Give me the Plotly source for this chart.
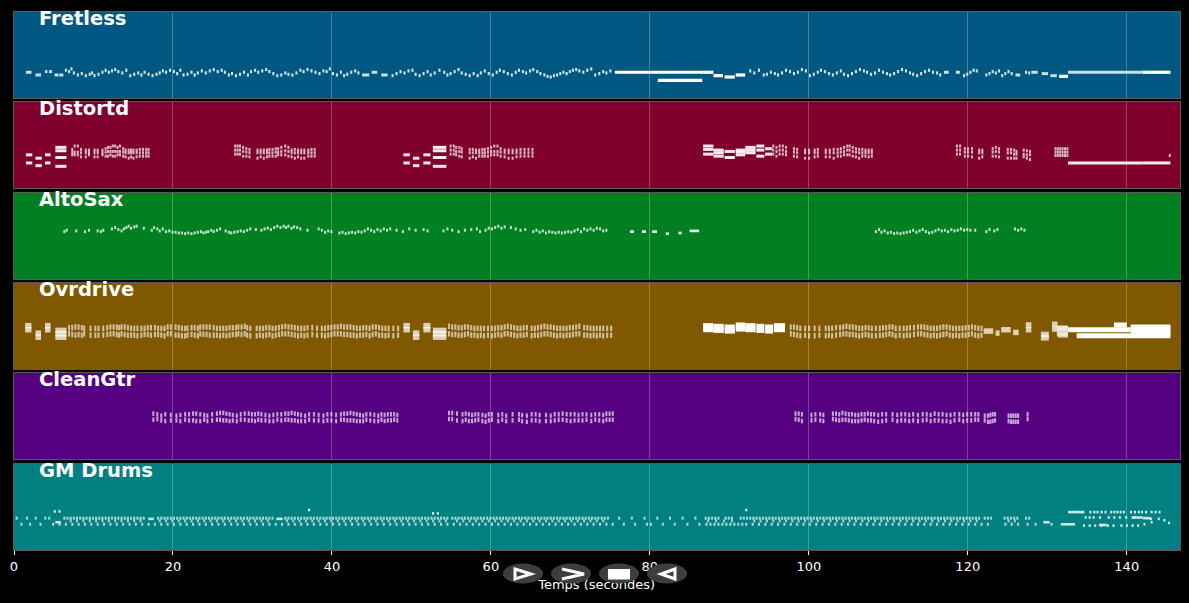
import plotly.graph_objects as go
from plotly.subplots import make_subplots

W, H = 1189, 603

##### DATA (times in seconds, pitch as midi number) #####
track_names = ["Fretless", "Distortd", "AltoSax", "Ovrdrive", "CleanGtr", "GM Drums"]
track_colors = ["rgb(0,88,130)", "rgb(128,0,45)", "rgb(0,128,35)", "rgb(128,88,0)", "rgb(85,0,128)", "rgb(0,128,128)"]
panel_tops = [12, 102, 193, 283, 373, 464]
panel_bottoms = [98, 188, 279, 369, 459, 550]
tick_vals = [0, 20, 40, 60, 80, 100, 120, 140]

# fretless
fretless_long_start = [75.6, 81.0, 86.7, 88.0, 89.4, 90.8, 131.5, 142.0]
fretless_long_end = [86.7, 86.6, 88.0, 89.2, 90.7, 92.0, 132.6, 145.5]
fretless_long_pitch = [38, 26, 38, 33, 31, 34, 32, 38]
fretless_mid_start = [1.5, 2.7, 3.9, 4.4, 5.1, 5.7, 43.8, 45.0, 46.2, 117.0, 118.5, 126.0, 128.0, 129.3, 130.4, 132.6]
fretless_mid_end = [2.2, 3.4, 4.2, 4.8, 5.6, 6.2, 44.7, 45.7, 47.0, 117.6, 119.0, 126.6, 128.8, 130.1, 131.2, 142.0]
fretless_mid_pitch = [38, 34, 39, 39, 34, 34, 34, 38, 34, 38, 38, 34, 38, 36, 33, 38]
fretless_t = [6.4, 6.8, 7.1, 7.4, 7.9, 8.4, 8.9, 9.4, 9.7, 10.0, 10.5, 11.0, 11.4, 11.8, 12.2, 12.6, 13.0, 13.5, 14.0, 14.5,
              15.0, 15.5, 15.9, 16.3, 16.8, 17.3, 17.8, 18.2, 18.6, 19.0, 19.5, 20.0, 20.4, 20.8, 21.2, 21.7, 22.2, 22.6, 23.0, 23.5,
              24.0, 24.5, 25.0, 25.5, 26.0, 26.4, 26.9, 27.3, 27.8, 28.3, 28.8, 29.3, 29.7, 30.2, 30.6, 31.1, 31.6, 32.0, 32.5, 33.0,
              33.5, 34.0, 34.4, 34.9, 35.4, 35.9, 36.3, 36.8, 37.3, 37.8, 38.3, 38.8, 39.2, 39.6, 40.0, 40.5, 41.0, 41.4, 41.8, 42.3, 42.8, 43.2,
              47.5, 48.0, 48.5, 49.0, 49.5, 50.0, 50.4, 50.9, 51.4, 51.9, 52.3, 52.8, 53.4, 54.0, 54.4, 54.8, 55.3, 55.8, 56.2, 56.7,
              57.2, 57.7, 58.2, 58.6, 59.1, 59.6, 60.1, 60.6, 61.0, 61.5, 62.0, 62.5, 63.0, 63.4, 63.9, 64.3, 64.8, 65.2, 65.7, 66.1,
              66.6, 67.0, 67.4, 67.8, 68.2, 68.6, 69.0, 69.4, 69.8, 70.2, 70.6, 71.0, 71.5, 72.0, 72.5, 73.0, 73.5, 74.0, 74.4, 74.9,
              92.5, 93.0, 93.6, 94.2, 94.6, 95.1, 95.6, 96.0, 96.5, 97.0, 97.5, 98.0, 98.5, 99.0, 99.5, 100.0, 100.5, 101.0, 101.4, 101.9,
              102.4, 102.9, 103.4, 103.9, 104.3, 104.8, 105.3, 105.8, 106.3, 106.8, 107.2, 107.7, 108.2, 108.7, 109.2, 109.7, 110.1, 110.6, 111.1, 111.6,
              112.1, 112.6, 113.0, 113.5, 114.0, 114.5, 115.0, 115.5, 116.0, 116.4, 119.4, 119.8, 120.2, 120.6, 121.0, 122.2, 122.6, 123.0, 123.4, 123.8,
              124.2, 124.6, 125.0, 125.4, 127.2, 127.6]
fretless_p = [41, 39, 43, 37, 34, 36, 33, 35, 37, 33, 35, 38, 41, 38, 40, 42, 39, 37, 41, 33,
              35, 37, 34, 38, 35, 33, 35, 37, 40, 38, 41, 39, 36, 41, 34, 35, 38, 34, 37, 40,
              37, 40, 42, 39, 41, 38, 34, 36, 33, 35, 38, 34, 39, 41, 38, 40, 42, 39, 36, 33,
              34, 37, 35, 34, 37, 41, 39, 42, 40, 38, 36, 40, 39, 43, 36, 34, 38, 33, 35, 38, 40, 37,
              33, 36, 39, 37, 40, 41, 35, 33, 36, 39, 34, 37, 41, 38, 34, 36, 39, 42, 37, 35,
              33, 36, 33, 37, 40, 36, 34, 38, 41, 39, 36, 34, 38, 41, 39, 37, 40, 42, 39, 36,
              34, 32, 31, 33, 34, 36, 38, 36, 39, 41, 42, 40, 38, 41, 43, 34, 36, 39, 37, 40,
              40, 37, 41, 34, 35, 38, 36, 34, 37, 41, 39, 36, 38, 42, 40, 33, 35, 38, 41, 39,
              36, 34, 37, 40, 35, 33, 36, 39, 42, 40, 38, 35, 37, 41, 38, 36, 34, 36, 39, 42,
              40, 37, 35, 33, 36, 39, 41, 38, 37, 34, 33, 35, 38, 41, 40, 34, 36, 39, 37, 40,
              33, 36, 39, 36, 38, 37]

# distortd
distortd_long_start = [1.5, 1.5, 2.7, 2.7, 3.9, 3.9, 5.2, 5.2, 5.2, 5.2, 49.0, 49.0, 50.2, 50.2, 51.5, 51.5, 52.7, 52.7, 52.7, 52.7,
                       86.7, 86.7, 86.7, 88.0, 88.0, 88.0, 89.4, 89.4, 90.8, 90.8, 90.8, 92.0, 92.0, 92.0, 93.4, 93.4, 93.4, 94.5, 94.5, 132.6, 142.0, 145.3]
distortd_long_end = [2.3, 2.3, 3.5, 3.5, 4.6, 4.6, 6.6, 6.6, 6.6, 6.6, 49.8, 49.8, 51.0, 51.0, 52.4, 52.4, 54.4, 54.4, 54.4, 54.4,
                     88.0, 88.0, 88.0, 89.3, 89.3, 89.3, 90.7, 90.7, 92.0, 92.0, 92.0, 93.3, 93.3, 93.3, 94.4, 94.4, 94.4, 95.4, 95.4, 142.0, 145.5, 145.5]
distortd_long_pitch = [49, 37, 44, 33, 49, 37, 60, 55, 45, 32, 49, 37, 44, 33, 49, 37, 60, 55, 45, 32,
                       62, 57, 50, 56, 52, 47, 54, 45, 56, 53, 49, 60, 56, 52, 62, 56, 47, 58, 50, 37, 37, 48]
distortd_t = [7.2, 7.5, 7.9, 8.3, 8.9, 9.3, 10.0, 10.4, 11.0, 11.4, 11.7, 12.0, 12.3, 12.6, 12.9, 13.2, 13.6, 13.9, 14.3, 14.6, 14.9, 15.3, 15.7, 16.1, 16.5, 16.8,
              27.7, 28.0, 28.3, 28.7, 29.1, 29.5, 30.5, 30.9, 31.3, 31.7, 32.0, 32.4, 32.8, 33.1, 33.5, 34.0, 34.4, 34.8, 35.2, 35.6, 36.0, 36.4, 36.9, 37.3, 37.7,
              54.8, 55.2, 55.5, 55.9, 56.2, 57.2, 57.6, 58.0, 58.4, 58.8, 59.1, 59.5, 59.9, 60.3, 60.7, 61.1, 61.6, 62.1, 62.6, 63.1, 63.6, 64.1, 64.6, 65.1,
              95.4, 95.8, 96.2, 96.6, 97.0, 98.0, 98.4, 99.4, 99.9, 100.6, 101.0, 102.0, 102.5, 103.0, 103.5, 103.9, 104.3, 104.7, 105.0, 105.4, 105.8, 106.2, 106.6, 107.0, 107.4, 107.8,
              118.5, 118.9, 119.5, 119.9, 120.4, 121.3, 121.7, 123.0, 123.4, 123.8, 124.9, 125.3, 125.7, 126.0, 126.9, 127.3, 127.7,
              130.9, 131.2, 131.5, 131.8, 132.1, 132.4]
distortd_hi = [57, 62, 62, 57, 56, 56, 56, 56, 56, 58, 60, 60, 62, 62, 60, 62, 58, 56, 56, 56, 56, 56, 57, 57, 57, 57,
               62, 62, 62, 60, 58, 57, 56, 56, 56, 56, 57, 57, 58, 58, 60, 62, 60, 56, 57, 56, 56, 56, 56, 57, 57,
               62, 62, 60, 60, 58, 57, 57, 56, 56, 57, 57, 58, 60, 62, 62, 58, 56, 56, 56, 56, 57, 57, 57, 57,
               62, 60, 62, 62, 60, 58, 57, 56, 56, 56, 57, 56, 56, 57, 57, 58, 60, 62, 62, 60, 58, 57, 57, 56, 56, 56,
               62, 62, 58, 58, 58, 56, 56, 58, 60, 58, 57, 57, 56, 54, 56, 55, 54,
               58, 58, 58, 58, 58, 58]
distortd_mid = [53, 53, 53, 52, 52, 52, 52, 52, 52, 53, 54, 54, 54, 54, 54, 54, 53, 52, 52, 52, 52, 52, 52, 52, 52, 52,
                56, 56, 56, 54, 53, 52, 52, 52, 52, 52, 52, 52, 53, 53, 54, 55, 54, 52, 52, 52, 52, 52, 52, 52, 52,
                56, 56, 54, 54, 53, 52, 52, 52, 52, 52, 52, 53, 54, 54, 54, 53, 52, 52, 52, 52, 52, 52, 52, 52,
                56, 54, 56, 56, 54, 53, 52, 52, 52, 52, 52, 52, 52, 52, 52, 53, 54, 56, 56, 54, 53, 52, 52, 52, 52, 52,
                56, 56, 53, 53, 53, 52, 52, 53, 54, 53, 52, 52, 50, 50, 50, 49, 49,
                53, 53, 53, 53, 53, 53]
distortd_lo = [49, 49, 49, 46, 46, 49, 46, 46, 49, 47, 47, 49, 47, 47, 49, 49, 47, 46, 44, 46, 44, 46, 47, 47, 47, 47,
               50, 50, 50, 47, 47, 46, 44, 46, 44, 46, 47, 47, 47, 49, 49, 49, 47, 46, 44, 46, 44, 44, 47, 47, 47,
               50, 50, 49, 47, 46, 44, 46, 44, 47, 47, 47, 47, 49, 49, 49, 47, 46, 44, 44, 46, 47, 47, 47, 47,
               50, 47, 50, 50, 49, 47, 46, 44, 44, 46, 47, 46, 46, 44, 47, 47, 49, 49, 49, 47, 46, 44, 47, 47, 46, 47,
               50, 50, 47, 47, 46, 44, 46, 47, 47, 46, 44, 44, 44, 44, 46, 44, 42,
               48, 48, 48, 48, 48, 48]

# altosax
altosax_long_start = [85.0, 77.5, 79.0, 80.3, 82.0, 83.6]
altosax_long_end = [86.2, 78.0, 79.5, 80.9, 82.4, 84.0]
altosax_long_pitch = [71, 70, 70, 70, 67, 68]
altosax_t = [6.2, 6.5, 7.7, 8.8, 9.3, 10.4, 10.8, 11.1, 12.2, 12.6, 13.0, 13.4, 13.7, 14.0, 14.3, 14.6, 15.0, 15.3, 16.2,
             17.2, 17.5, 17.9, 18.2, 18.6, 19.0, 19.4, 19.8, 20.2, 20.6, 21.0, 21.4, 21.8, 22.2, 22.6, 23.0, 23.4, 23.7, 24.0, 24.3, 24.7, 25.0, 25.4, 25.8,
             26.5, 26.9, 27.2, 27.6, 28.0, 28.4, 28.8, 29.2, 29.6, 30.3, 31.0, 31.4, 31.8, 32.2, 32.6, 33.0, 33.4, 33.8, 34.1, 34.4, 34.8, 35.1, 35.5, 35.9, 36.8,
             38.2, 38.6, 39.0, 39.4, 39.8, 40.8, 41.2, 41.6, 42.0, 42.4, 42.8, 43.2, 43.6, 44.0, 44.4, 44.8, 45.2, 45.6, 46.0, 46.4, 46.8, 47.2, 48.0, 48.8, 49.6, 50.4, 51.4, 51.9,
             53.9, 54.4, 55.0, 55.8, 56.6, 57.4, 58.1, 58.5, 59.2, 59.6, 60.0, 60.4, 60.8, 61.2, 61.6, 62.4, 63.0, 63.6, 64.2,
             65.2, 65.6, 66.0, 66.4, 66.8, 67.2, 67.6, 68.0, 68.4, 68.8, 69.2, 69.6, 70.0, 70.4, 70.8, 71.2, 71.6, 72.0, 72.4, 72.8, 73.2, 73.6, 74.0, 74.4,
             108.3, 108.7, 109.0, 109.4, 109.8, 110.2, 110.6, 111.0, 111.4, 111.8, 112.2, 112.6, 113.0, 113.4, 113.8, 114.2, 114.6, 115.0, 115.4, 115.8, 116.2, 116.6, 117.0, 117.4,
             117.8, 118.2, 118.6, 119.0, 119.4, 119.8, 120.2, 120.8, 122.2, 122.6, 123.2, 123.6, 125.8, 126.2, 126.6, 127.0, 127.4]
altosax_p = [70, 72, 71, 70, 72, 71, 70, 72, 74, 76, 73, 71, 74, 76, 78, 75, 77, 78, 75,
             72, 76, 74, 71, 74, 70, 71, 69, 69, 68, 68, 67, 68, 67, 68, 69, 70, 68, 69, 70, 72, 70, 72, 74,
             71, 69, 68, 69, 70, 71, 70, 72, 74, 73, 72, 74, 75, 73, 76, 78, 76, 78, 76, 78, 75, 77, 76, 74, 72,
             74, 72, 69, 71, 70, 68, 69, 67, 68, 69, 68, 70, 69, 71, 74, 72, 70, 73, 71, 74, 72, 74, 72, 70, 74, 72, 73, 71,
             71, 74, 72, 70, 72, 73, 74, 70, 72, 75, 74, 76, 78, 75, 77, 76, 74, 72,
             73, 70, 72, 69, 71, 68, 70, 69, 68, 69, 68, 69, 70, 69, 71, 73, 70, 74, 72, 74, 72, 75, 74, 71,
             72, 70, 73, 69, 71, 68, 69, 67, 68, 67, 68, 69, 70, 72, 69, 71, 73, 70, 68, 69, 71, 73, 71, 72,
             70, 73, 71, 72, 74, 72, 73, 72, 72, 70, 73, 71, 73, 74, 72, 74, 72]

# ovrdrive
ovrdrive_long_start = [86.7, 86.7, 88.0, 88.0, 89.4, 89.4, 90.8, 90.8, 92.0, 92.0, 93.4, 93.4, 94.5, 94.5, 95.6, 95.6,
                       132.6, 133.7, 138.4, 140.5, 140.5, 140.5]
ovrdrive_long_end = [88.0, 88.0, 89.3, 89.3, 90.7, 90.7, 92.0, 92.0, 93.3, 93.3, 94.4, 94.4, 95.5, 95.5, 97.0, 97.0,
                     140.5, 145.5, 140.0, 145.5, 145.5, 145.5]
ovrdrive_long_pitch = [64, 58, 63, 57, 62, 56, 65, 59, 64, 58, 63, 57, 62, 56, 64, 58,
                       58, 49, 65, 62, 58, 54]
ovrdrive_block_start = [1.4, 1.4, 2.7, 2.7, 3.9, 3.9, 5.2, 5.2, 5.2, 49.0, 49.0, 50.2, 50.2, 51.5, 51.5, 52.7, 52.7, 52.7,
                        122.0, 123.5, 124.2, 125.7, 127.3, 127.3, 129.2, 129.2, 130.6, 130.6, 131.2, 131.2]
ovrdrive_block_end = [2.2, 2.2, 3.4, 3.4, 4.6, 4.6, 6.6, 6.6, 6.6, 49.8, 49.8, 51.0, 51.0, 52.4, 52.4, 54.4, 54.4, 54.4,
                      123.2, 124.0, 125.4, 126.4, 128.0, 128.0, 130.2, 130.2, 131.3, 131.3, 132.6, 132.6]
ovrdrive_block_pitch = [64, 58, 53, 47, 64, 58, 57, 52, 47, 64, 58, 53, 47, 64, 58, 57, 52, 47,
                        56, 53, 58, 54, 65, 58, 51, 46, 66, 59, 60, 52]
ovrdrive_t = [6.8, 7.2, 7.6, 8.0, 8.4, 8.7, 9.5, 10.1, 10.5, 11.1, 11.6, 12.0, 12.4, 12.8, 13.1, 13.4, 13.8, 14.2, 14.6, 15.0, 15.4, 15.9, 16.3, 16.7, 17.1,
              17.6, 18.0, 18.4, 18.8, 19.2, 19.6, 20.2, 20.6, 21.0, 21.4, 21.7, 22.2, 22.6, 23.0, 23.3, 23.7, 24.1, 24.5, 25.0, 25.4, 25.8, 26.2, 26.6, 27.0, 27.4,
              27.8, 28.1, 28.5, 28.9, 29.2, 29.6, 30.4, 30.8, 31.2, 31.6, 32.0, 32.4, 32.8, 33.2, 33.6, 34.0, 34.4, 34.8, 35.2, 35.6, 36.0, 36.4, 36.8, 37.4, 38.0,
              38.6, 39.0, 39.4, 39.8, 40.2, 40.6, 41.0, 41.4, 41.8, 42.2, 42.6, 43.0, 43.4, 43.8, 44.2, 44.6, 45.0, 45.4, 45.8, 46.2, 46.6, 47.0, 47.6, 48.2,
              54.6, 55.0, 55.4, 55.8, 56.2, 56.6, 57.0, 57.4, 57.8, 58.2, 58.6, 59.0, 59.5, 60.0, 60.4, 60.8, 61.2, 61.6, 62.0, 62.4, 62.8, 63.2, 63.6, 64.0, 64.4,
              65.0, 65.4, 65.8, 66.2, 66.6, 67.0, 67.4, 67.8, 68.2, 68.6, 69.0, 69.4, 69.8, 70.2, 70.6, 71.0, 71.6, 72.0, 72.4, 72.8, 73.2, 73.6, 74.0, 74.5, 75.0,
              97.6, 98.0, 98.4, 98.8, 99.4, 99.9, 100.6, 101.2, 102.0, 102.4, 102.8, 103.3, 103.8, 104.2, 104.6, 105.0, 105.4, 105.8, 106.2, 106.6, 107.0, 107.4, 107.8, 108.3,
              108.8, 109.2, 109.6, 110.0, 110.4, 110.8, 111.3, 111.8, 112.2, 112.6, 113.1, 113.6, 114.0, 114.4, 114.8, 115.2, 115.6, 116.0, 116.4, 116.8, 117.2, 117.6, 118.0, 118.4,
              118.8, 119.2, 119.6, 120.0, 120.4, 120.8, 121.2, 121.6, 131.4, 131.7, 132.0, 132.3]
ovrdrive_hi = [61, 61, 62, 62, 61, 60, 60, 60, 60, 60, 61, 62, 62, 62, 61, 62, 62, 61, 60, 60, 60, 60, 60, 61, 61,
               61, 60, 60, 60, 62, 62, 62, 61, 60, 60, 60, 61, 61, 60, 62, 62, 62, 62, 61, 60, 60, 60, 60, 61, 61,
               61, 62, 62, 63, 61, 60, 60, 60, 60, 61, 61, 60, 60, 61, 62, 63, 62, 62, 61, 60, 60, 60, 61, 61, 60,
               60, 60, 61, 61, 62, 62, 63, 62, 62, 62, 61, 60, 60, 61, 61, 60, 62, 62, 61, 60, 60, 60, 60, 60,
               63, 62, 62, 61, 61, 62, 62, 61, 60, 60, 60, 60, 60, 60, 60, 61, 61, 62, 63, 62, 61, 60, 60, 61, 61,
               60, 60, 61, 62, 63, 62, 62, 61, 60, 60, 60, 60, 61, 61, 62, 63, 61, 61, 60, 60, 60, 60, 60, 60, 60,
               62, 62, 61, 60, 60, 60, 60, 60, 60, 60, 60, 61, 61, 62, 63, 62, 62, 61, 60, 60, 61, 61, 60, 60,
               60, 61, 61, 62, 62, 60, 60, 60, 60, 61, 61, 62, 62, 62, 61, 60, 60, 60, 61, 62, 62, 61, 60, 60,
               60, 60, 61, 61, 62, 61, 60, 60, 60, 60, 60, 60]
ovrdrive_lo = [52, 51, 50, 51, 50, 52, 50, 50, 50, 50, 51, 52, 52, 51, 50, 52, 51, 50, 50, 50, 49, 50, 51, 51, 50,
               51, 51, 50, 49, 52, 52, 50, 50, 49, 49, 50, 51, 50, 49, 52, 51, 51, 50, 50, 50, 49, 50, 49, 50, 51,
               51, 52, 51, 52, 50, 49, 49, 50, 49, 50, 51, 49, 50, 51, 52, 52, 52, 51, 50, 49, 50, 49, 50, 51, 50,
               50, 49, 50, 51, 52, 52, 52, 51, 51, 50, 50, 49, 50, 50, 51, 49, 51, 52, 50, 50, 49, 50, 49, 50,
               52, 51, 51, 50, 50, 51, 52, 50, 50, 49, 50, 49, 50, 49, 50, 51, 50, 52, 52, 51, 50, 49, 50, 50, 51,
               49, 50, 50, 51, 52, 52, 51, 50, 49, 50, 49, 50, 50, 51, 52, 52, 50, 50, 49, 50, 49, 50, 49, 50, 50,
               52, 51, 50, 49, 50, 49, 49, 50, 49, 50, 49, 50, 51, 52, 52, 51, 51, 50, 49, 50, 51, 50, 49, 49,
               50, 50, 51, 52, 51, 49, 50, 49, 50, 50, 51, 52, 52, 51, 50, 49, 50, 49, 50, 51, 52, 50, 49, 50,
               49, 50, 50, 51, 52, 50, 49, 50, 50, 50, 50, 50]

# cleangtr
cleangtr_t = [17.4, 17.9, 18.4, 18.9, 19.6, 20.3, 20.8, 21.4, 21.9, 22.4, 22.8, 23.3, 23.8, 24.2, 24.8, 25.4, 25.8, 26.2, 26.6, 27.0, 27.4, 27.9, 28.4, 28.9,
              29.4, 29.8, 30.2, 30.6, 31.0, 31.5, 32.0, 32.5, 33.0, 33.5, 34.0, 34.4, 34.8, 35.2, 35.6, 36.0, 36.5, 37.0, 37.6, 38.2, 38.8, 39.3, 39.8,
              40.4, 41.0, 41.4, 41.8, 42.2, 42.6, 43.0, 43.4, 43.8, 44.2, 44.7, 45.2, 45.7, 46.1, 46.5, 46.9, 47.3, 47.7, 48.1,
              54.6, 55.0, 55.6, 56.3, 56.7, 57.1, 57.5, 57.9, 58.3, 58.8, 59.2, 59.6, 60.0, 60.8, 61.3, 61.8, 62.6, 63.4, 63.8, 64.4, 65.0, 65.5, 66.0,
              66.8, 67.4, 67.9, 68.4, 68.9, 69.4, 69.9, 70.4, 70.9, 71.4, 71.9, 72.5, 73.0, 73.5, 74.0, 74.4, 74.8, 75.2,
              98.2, 98.6, 99.0, 100.2, 100.7, 101.3, 101.7, 102.9, 103.3, 103.7, 104.1, 104.5, 104.9, 105.3, 105.7, 106.1, 106.5, 106.9, 107.3, 107.7, 108.1, 108.6, 109.1, 109.6,
              110.4, 111.0, 111.5, 112.0, 112.5, 113.0, 113.6, 114.2, 114.7, 115.2, 115.7, 116.2, 116.7, 117.2, 117.7, 118.2, 118.8, 119.3, 119.8, 120.3, 120.8, 121.2,
              122.0, 122.4, 122.7, 123.0, 123.3, 125.0, 125.3, 125.6, 125.9, 126.2, 127.4]
cleangtr_hi = [67, 66, 64, 66, 65, 64, 65, 66, 66, 67, 67, 66, 65, 64, 66, 67, 68, 68, 67, 66, 65, 64, 66, 67,
               67, 66, 66, 67, 66, 65, 64, 65, 66, 66, 67, 67, 68, 67, 66, 65, 64, 66, 66, 65, 64, 66, 66,
               65, 66, 67, 67, 68, 67, 66, 65, 64, 66, 66, 65, 64, 66, 65, 66, 66, 66, 65,
               68, 68, 67, 66, 67, 66, 65, 66, 66, 65, 64, 66, 66, 65, 66, 64, 66, 66, 65, 64, 66, 66, 65,
               65, 64, 66, 66, 67, 66, 66, 66, 65, 66, 66, 65, 66, 66, 65, 67, 67, 67,
               67, 67, 66, 65, 66, 66, 65, 67, 67, 66, 68, 67, 66, 66, 65, 65, 66, 66, 67, 66, 66, 65, 66, 66,
               66, 65, 66, 66, 65, 66, 65, 66, 66, 65, 67, 66, 66, 65, 65, 66, 66, 65, 66, 66, 66, 66,
               64, 64, 65, 66, 66, 64, 64, 64, 64, 64, 66]
cleangtr_lo = [58, 59, 57, 56, 57, 57, 56, 58, 57, 57, 56, 56, 58, 56, 57, 58, 58, 57, 57, 56, 57, 56, 58, 58,
               57, 57, 56, 58, 57, 57, 56, 56, 58, 57, 58, 58, 57, 57, 56, 56, 56, 58, 57, 57, 56, 57, 57,
               56, 58, 58, 57, 57, 57, 56, 56, 56, 58, 57, 56, 56, 58, 56, 57, 57, 58, 57,
               59, 59, 57, 56, 58, 56, 56, 57, 58, 56, 55, 57, 58, 56, 58, 56, 57, 58, 56, 55, 57, 57, 56,
               56, 56, 57, 58, 58, 57, 56, 57, 57, 57, 58, 56, 58, 57, 56, 58, 58, 58,
               59, 58, 56, 57, 58, 57, 56, 59, 58, 57, 58, 58, 57, 56, 56, 56, 57, 58, 57, 57, 56, 55, 56, 57,
               58, 56, 57, 57, 56, 57, 56, 57, 58, 56, 57, 57, 56, 56, 55, 57, 58, 56, 57, 57, 58, 58,
               57, 55, 55, 56, 57, 56, 55, 55, 55, 55, 59]

# gm drums
drums_long_start = [5.2, 16.9, 33.0, 132.6, 131.7, 136.5, 129.5, 140.6, 142.0]
drums_long_end = [5.9, 17.6, 33.8, 134.5, 133.5, 137.5, 130.3, 142.0, 143.0]
drums_long_pitch = [41, 46, 46, 56, 38, 37, 41, 48, 47]
drums_hat_t = [0.2, 1.5, 2.6, 3.8, 4.3, 6.2, 6.6, 7.0, 7.4, 7.8, 8.2, 8.6, 9.0, 9.4, 9.8, 10.2, 10.6, 11.0, 11.4, 11.8, 12.2, 12.6, 13.0, 13.4, 13.8, 14.2, 14.6, 15.0, 15.4, 15.8, 16.2, 18.0, 18.4, 18.8, 19.2, 19.6, 20.0, 20.4, 20.8, 21.2, 21.6, 22.0,
               22.4, 22.8, 23.2, 23.6, 24.0, 24.4, 24.8, 25.2, 25.6, 26.0, 26.4, 26.8, 27.2, 27.6, 28.0, 28.4, 28.8, 29.2, 29.6, 30.0, 30.4, 30.8, 31.2, 31.6, 32.0, 32.4, 34.0, 34.4, 34.8, 35.2, 35.6, 36.0, 36.4, 36.8, 37.2, 37.6, 38.0, 38.4, 38.8, 39.2,
               39.6, 40.0, 40.4, 40.8, 41.2, 41.6, 42.0, 42.4, 42.8, 43.2, 43.6, 44.0, 44.4, 44.8, 45.2, 45.6, 46.0, 46.4, 46.8, 47.2, 47.6, 48.0, 48.4, 48.8, 49.2, 49.6, 50.0, 50.4, 50.8, 51.2, 51.6, 52.0, 52.4, 52.8, 53.2, 53.6, 54.0, 54.4,
               55.0, 55.4, 55.8, 56.2, 56.6, 57.0, 57.4, 57.8, 58.2, 58.6, 59.0, 59.4, 59.8, 60.2, 60.6, 61.0, 61.4, 61.8, 62.2, 62.6, 63.0, 63.4, 63.8, 64.2, 64.6, 65.0, 65.4, 65.8, 66.2, 66.6, 67.0, 67.4, 67.8, 68.2, 68.6, 69.0, 69.4, 69.8, 70.2, 70.6, 71.0, 71.4, 71.8, 72.2, 72.6, 73.0, 73.4, 73.8, 74.2, 74.6,
               76.0, 77.6, 79.2, 80.8, 82.4, 84.0, 85.6, 86.9, 87.3, 87.7, 88.1, 88.5, 89.4, 89.8, 90.2, 91.3, 91.7, 92.1, 92.5, 92.9, 93.3, 93.7, 94.1, 94.5, 94.9, 95.3, 95.7, 96.1, 96.5, 96.9, 97.3, 97.7,
               98.1, 98.5, 98.9, 99.3, 99.7, 100.1, 100.5, 100.9, 101.3, 101.7, 102.1, 102.5, 102.9, 103.3, 103.7, 104.1, 104.5, 104.9, 105.3, 105.7, 106.1, 106.5, 106.9, 107.3, 107.7, 108.1, 108.5, 108.9, 109.3, 109.7, 110.1, 110.5, 110.9, 111.3, 111.7, 112.1, 112.5, 112.9, 113.3, 113.7, 114.1, 114.5, 114.9, 115.3, 115.7, 116.1, 116.5, 116.9, 117.3, 117.7, 118.1, 118.5, 118.9, 119.3, 119.7, 120.1, 120.5, 120.9, 121.3, 122.0, 122.4, 122.8, 124.5, 124.9, 125.3, 125.7, 126.1, 127.2, 127.6]
drums_kick_t = [0.8, 1.9, 3.2, 4.8, 5.6, 6.4, 7.2, 8.0, 8.8, 9.6, 10.4, 11.2, 12.0, 12.8, 13.6, 14.4, 15.2, 16.0, 16.8, 17.6, 18.4, 19.2, 20.0, 20.8, 21.6, 22.4, 23.2, 24.0, 24.8, 25.6, 26.4, 27.2, 28.0, 28.8, 29.6, 30.4, 31.2, 32.0, 32.8, 33.6, 34.4, 35.2, 36.0, 36.8, 37.6, 38.4, 39.2, 40.0, 40.8, 41.6, 42.4, 43.2, 44.0, 44.8, 45.6, 46.4, 47.2, 48.0, 48.8, 49.6, 50.4, 51.2, 52.0, 52.8, 53.6, 54.4,
                55.2, 56.0, 56.8, 57.6, 58.4, 59.2, 60.0, 60.8, 61.6, 62.4, 63.2, 64.0, 64.8, 65.6, 66.4, 67.2, 68.0, 68.8, 69.6, 70.4, 71.2, 72.0, 72.8, 73.6, 74.4, 75.2, 76.6, 78.0, 79.5, 80.0, 81.5, 83.0, 84.6, 86.1, 87.0, 87.5, 88.0, 88.5, 89.0, 89.5, 90.0, 90.5, 91.0, 91.5, 92.0, 92.8, 93.6, 94.4, 95.2, 96.0, 96.8, 97.6, 98.4, 99.2, 100.0, 100.8, 101.6, 102.4, 103.2, 104.0, 104.8, 105.6, 106.4, 107.2, 108.0, 108.8, 109.6, 110.4, 111.2, 112.0, 112.8, 113.6, 114.4, 115.2, 116.0, 116.8, 117.6, 118.4, 119.2, 120.0, 120.8, 121.6, 122.4, 124.6, 125.4, 126.2, 127.4, 128.4, 130.4]
drums_snare_t = [7.0, 7.8, 8.6, 9.4, 10.2, 11.0, 11.8, 12.6, 13.4, 14.2, 15.0, 15.8, 18.2, 19.0, 19.8, 20.6, 21.4, 22.2, 23.0, 23.8, 24.6, 25.4, 26.2, 27.0, 27.8, 28.6, 29.4, 30.2, 31.0, 31.8, 34.2, 35.0, 35.8, 36.6, 37.4, 38.2, 39.0, 39.8, 40.6, 41.4, 42.2, 43.0, 43.8, 44.6, 45.4, 46.2, 47.0, 47.8, 48.6, 49.4, 50.2, 51.0, 51.8, 52.6, 53.4, 54.2,
                 55.6, 56.4, 57.2, 58.0, 58.8, 59.6, 60.4, 61.2, 62.0, 62.8, 63.6, 64.4, 65.2, 66.0, 66.8, 67.6, 68.4, 69.2, 70.0, 70.8, 71.6, 72.4, 73.2, 74.0, 87.2, 88.2, 89.2, 90.2, 93.0, 93.8, 94.6, 95.4, 96.2, 97.0, 97.8, 98.6, 99.4, 100.2, 101.0, 101.8, 102.6, 103.4, 104.2, 105.0, 105.8, 106.6, 107.4, 108.2, 109.0, 109.8, 110.6, 111.4, 112.2, 113.0, 113.8, 114.6, 115.4, 116.2, 117.0, 117.8, 118.6, 119.4, 120.2, 121.0, 125.0, 125.8]
drums_top_t = [5.0, 5.6, 37.0, 52.6, 53.2, 92.0, 134.4, 135.3, 135.8, 136.2, 136.7, 137.2, 137.9, 138.3, 138.7, 139.1, 139.5, 140.4, 140.9, 141.4, 141.8, 142.3, 143.0, 143.5, 144.0]
drums_top_p = [57, 57, 59, 54, 54, 59, 56, 56, 56, 56, 56, 56, 56, 56, 56, 56, 56, 56, 56, 56, 56, 56, 56, 56, 56]
drums_end_t = [134.7, 135.2, 135.7, 136.5, 137.6, 138.3, 139.0, 139.8, 140.8, 142.9, 143.9, 144.6, 145.2,
               134.5, 135.2, 135.9, 136.7, 137.5, 138.2, 139.2, 139.9, 140.6, 141.3, 142.1, 143.0]
drums_end_p = [48, 48, 48, 48, 48, 48, 48, 48, 48, 46, 46, 44, 40,
               36, 36, 36, 36, 36, 36, 36, 36, 36, 36, 38, 41]

# playback buttons are a fixed part of the picture
button_centers = [523, 571, 619, 667]

NOTE_LEN = 0.26
HAT_PITCH = 47
SNARE_PITCH = 43
KICK_PITCH = 38


def px_x(x):
    return x / W


def px_y(y):
    return 1 - y / H


def notes_xy(starts, ends, pitches):
    xs, ys = [], []
    for s, e, p in zip(starts, ends, pitches):
        xs += [s, e, None]
        ys += [p, p, None]
    return xs, ys


def add_notes(fig, row, starts, ends, pitches, width, color):
    xs, ys = notes_xy(starts, ends, pitches)
    fig.add_trace(go.Scatter(x=xs, y=ys, mode="lines", hoverinfo="skip", showlegend=False,
                             line=dict(color=color, width=width)), row=row, col=1)


def short_notes(fig, row, times, pitches, width=3.2, color="rgba(255,255,255,0.82)"):
    add_notes(fig, row, times, [t + NOTE_LEN for t in times], pitches, width, color)


fig = make_subplots(rows=6, cols=1, shared_xaxes=True)

# 1 fretless
add_notes(fig, 1, fretless_long_start, fretless_long_end, fretless_long_pitch, 3.2, "white")
add_notes(fig, 1, fretless_mid_start, fretless_mid_end, fretless_mid_pitch, 3, "rgba(255,255,255,0.8)")
short_notes(fig, 1, fretless_t, fretless_p)

# 2 distortd
add_notes(fig, 2, distortd_long_start, distortd_long_end, distortd_long_pitch, 3, "rgba(255,255,255,0.92)")
for rowp in (distortd_hi, distortd_mid, distortd_lo):
    short_notes(fig, 2, distortd_t, rowp, 3, "rgba(255,255,255,0.7)")

# 3 altosax
add_notes(fig, 3, altosax_long_start, altosax_long_end, altosax_long_pitch, 2.6, "white")
short_notes(fig, 3, altosax_t, altosax_p, 3, "rgba(255,255,255,0.75)")

# 4 ovrdrive
add_notes(fig, 4, ovrdrive_long_start, ovrdrive_long_end, ovrdrive_long_pitch, 5, "white")
add_notes(fig, 4, ovrdrive_block_start, ovrdrive_block_end, ovrdrive_block_pitch, 5.5, "rgba(255,255,255,0.72)")
for rowp in (ovrdrive_hi, ovrdrive_lo):
    short_notes(fig, 4, ovrdrive_t, rowp, 5.5, "rgba(255,255,255,0.62)")

# 5 cleangtr
for rowp in (cleangtr_hi, cleangtr_lo):
    short_notes(fig, 5, cleangtr_t, rowp, 4.5, "rgba(255,255,255,0.65)")

# 6 gm drums
add_notes(fig, 6, drums_long_start, drums_long_end, drums_long_pitch, 2.6, "rgba(255,255,255,0.8)")
short_notes(fig, 6, drums_hat_t, [HAT_PITCH] * len(drums_hat_t), 3, "rgba(255,255,255,0.68)")
short_notes(fig, 6, drums_snare_t, [SNARE_PITCH] * len(drums_snare_t), 3, "rgba(255,255,255,0.62)")
short_notes(fig, 6, drums_kick_t, [KICK_PITCH] * len(drums_kick_t), 3, "rgba(255,255,255,0.68)")
short_notes(fig, 6, drums_top_t, drums_top_p, 2.6, "rgba(255,255,255,0.85)")
short_notes(fig, 6, drums_end_t, drums_end_p, 2.6, "rgba(255,255,255,0.85)")

# x axis title lives on an overlay axis as a tick label, so the buttons can sit on top of it
fig.add_trace(go.Scatter(x=[], y=[], xaxis="x7", yaxis="y6", showlegend=False, hoverinfo="skip"))

shapes = []
annotations = []
for i in range(6):
    top, bottom = panel_tops[i], panel_bottoms[i]
    fig.update_yaxes(domain=[px_y(bottom), px_y(top)], range=[0, 127], row=i + 1, col=1,
                     showticklabels=False, ticks="", showgrid=False, zeroline=False,
                     showline=True, mirror=True, linecolor="rgba(255,255,255,0.35)", linewidth=1)
    fig.update_xaxes(domain=[px_x(14), px_x(1180)], range=[0, 146.7], row=i + 1, col=1,
                     tickvals=tick_vals, showgrid=True, gridcolor="rgba(255,255,255,0.25)", gridwidth=1,
                     zeroline=False, showline=True, mirror=True, linecolor="rgba(255,255,255,0.35)", linewidth=1)
    shapes.append(dict(type="rect", xref="paper", yref="paper", layer="below", line_width=0,
                       x0=px_x(14), x1=px_x(1180), y0=px_y(bottom), y1=px_y(top), fillcolor=track_colors[i]))
    annotations.append(dict(text="<b>%s</b>" % track_names[i], xref="paper", yref="paper", x=px_x(38),
                            y=px_y(top + 6.5), xanchor="left", yanchor="middle", showarrow=False,
                            xshift=-1, font=dict(family="DejaVu Sans", size=19.5, color="white")))

fig.update_xaxes(ticks="outside", ticklen=4, tickcolor="white", tickfont=dict(family="DejaVu Sans", size=13, color="white"), row=6, col=1)

# playback buttons
for c in button_centers:
    shapes.append(dict(type="circle", xref="paper", yref="paper", layer="above", line_width=0,
                       x0=px_x(c - 20), x1=px_x(c + 20), y0=px_y(583.5), y1=px_y(563.5), fillcolor="rgb(62,62,62)"))


def poly(points):
    return "M" + " L".join("%.5f,%.5f" % (px_x(x), px_y(y)) for x, y in points)


shapes.append(dict(type="path", xref="paper", yref="paper", layer="above", path=poly([(515, 569), (531, 574), (515, 579)]) + " Z",
                   line=dict(color="white", width=3)))
shapes.append(dict(type="path", xref="paper", yref="paper", layer="above", path=poly([(562, 569), (584, 574), (562, 579)]),
                   line=dict(color="white", width=3)))
shapes.append(dict(type="rect", xref="paper", yref="paper", layer="above", line_width=0, fillcolor="white",
                   x0=px_x(608), x1=px_x(630), y0=px_y(579.5), y1=px_y(569)))
shapes.append(dict(type="path", xref="paper", yref="paper", layer="above", path=poly([(675, 569), (661, 574), (675, 579)]) + " Z",
                   line=dict(color="white", width=3)))

fig.update_layout(width=W, height=H, margin=dict(l=0, r=0, t=0, b=0, autoexpand=False), paper_bgcolor="black",
                  plot_bgcolor="rgba(0,0,0,0)", shapes=shapes, annotations=annotations,
                  showlegend=False, font=dict(family="DejaVu Sans", color="white"),
                  xaxis7=dict(overlaying="x6", anchor="y6", domain=[px_x(14), px_x(1180)], range=[0, 146.7],
                              tickvals=[73.3], ticktext=["Temps (secondes)"], ticks="outside", ticklen=22,
                              tickcolor="rgba(0,0,0,0)", showgrid=False, zeroline=False, showline=False,
                              tickfont=dict(family="DejaVu Sans", size=13, color="white")))

fig.write_html("out.html", config=dict(displayModeBar=False),
               post_script="document.body.style.margin='0';document.documentElement.style.overflow='hidden';")
